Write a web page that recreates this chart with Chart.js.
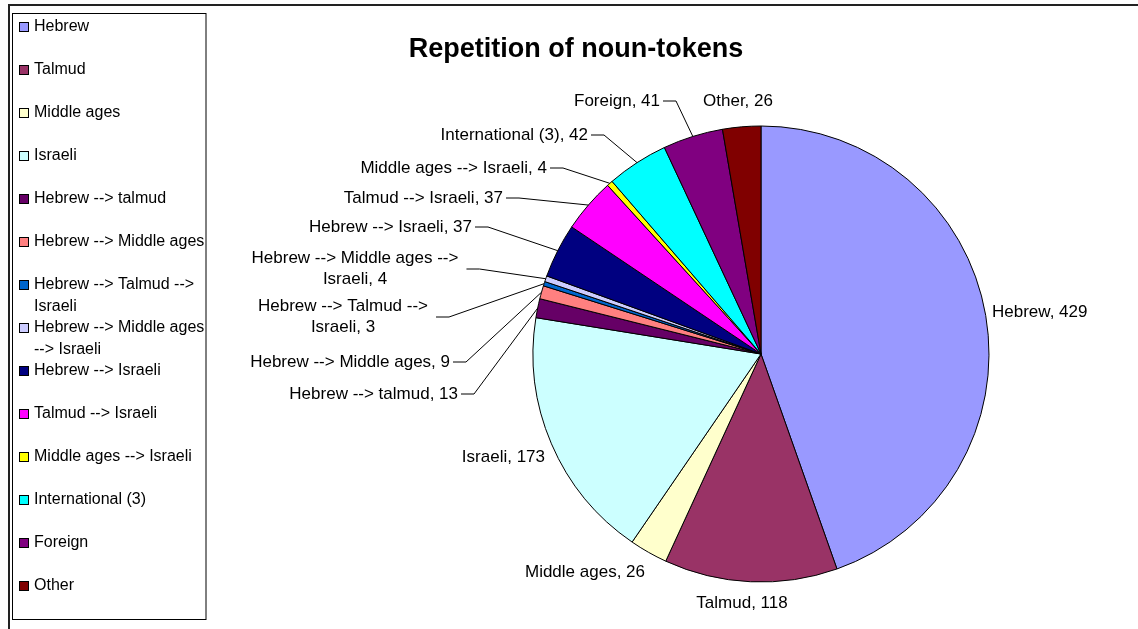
<!DOCTYPE html>
<html>
<head>
<meta charset="utf-8">
<title>Repetition of noun-tokens</title>
<script src="https://cdn.jsdelivr.net/npm/chart.js@4.4.1/dist/chart.umd.min.js"></script>
<style>
  html, body { margin: 0; padding: 0; background: #fff; }
  canvas { display: block; }
</style>
</head>
<body>
<canvas id="nounChart" width="1138" height="629"></canvas>
<script>
// origin categories and their noun-token counts
const categories = [
  "Hebrew", "Talmud", "Middle ages", "Israeli",
  "Hebrew --> talmud", "Hebrew --> Middle ages",
  "Hebrew --> Talmud --> Israeli", "Hebrew --> Middle ages --> Israeli",
  "Hebrew --> Israeli", "Talmud --> Israeli", "Middle ages --> Israeli",
  "International (3)", "Foreign", "Other"
];
const tokenCounts = [429, 118, 26, 173, 13, 9, 3, 4, 37, 37, 4, 42, 41, 26];
const sliceColors = [
  "#9999FF", "#993366", "#FFFFCC", "#CCFFFF", "#660066", "#FF8080", "#0066CC",
  "#CCCCFF", "#000080", "#FF00FF", "#FFFF00", "#00FFFF", "#800080", "#800000"
];

const FONT = '"Liberation Sans", Arial, sans-serif';

// where each data label sits, relative to the pie centre
// align: text alignment at (dx, dy); leader: draw a line back to the slice
const labelLayout = [
  { dx: 231, dy: -42, align: "left" },
  { dx: -19, dy: 249, align: "center" },
  { dx: -116, dy: 218, align: "right" },
  { dx: -216, dy: 103, align: "right" },
  { dx: -303, dy: 40, align: "right", leader: true },
  { dx: -311, dy: 8, align: "right", leader: true },
  { dx: -418, dy: -37, align: "center", leader: true, wrap: 215 },
  { dx: -406, dy: -85, align: "center", leader: true, wrap: 215 },
  { dx: -289, dy: -127, align: "right", leader: true },
  { dx: -258, dy: -156, align: "right", leader: true },
  { dx: -214, dy: -186, align: "right", leader: true },
  { dx: -173, dy: -219, align: "right", leader: true },
  { dx: -101, dy: -253, align: "right", leader: true },
  { dx: -23, dy: -253, align: "center" }
];

// simple word wrap for canvas text
function wrapText(ctx, text, maxWidth) {
  const words = text.split(" ");
  const lines = [];
  let line = "";
  words.forEach((w) => {
    const test = line ? line + " " + w : w;
    if (line && ctx.measureText(test).width > maxWidth) {
      lines.push(line);
      line = w;
    } else {
      line = test;
    }
  });
  if (line) lines.push(line);
  return lines;
}

// frame, title, legend and data labels
const excelDecor = {
  id: "excelDecor",
  afterDraw(chart) {
    const ctx = chart.ctx;
    const ds = chart.data.datasets[0];
    const arcs = chart.getDatasetMeta(0).data;
    ctx.save();

    // outer frame (top and left edge only)
    ctx.strokeStyle = "#222";
    ctx.lineWidth = 2;
    ctx.beginPath();
    ctx.moveTo(9, 629);
    ctx.lineTo(9, 5);
    ctx.lineTo(1138, 5);
    ctx.stroke();

    // title
    ctx.fillStyle = "#000";
    ctx.font = "bold 27px " + FONT;
    ctx.textAlign = "center";
    ctx.textBaseline = "alphabetic";
    ctx.fillText("Repetition of noun-tokens", 576, 57);

    // legend box
    ctx.lineWidth = 1;
    ctx.strokeStyle = "#000";
    ctx.strokeRect(12.5, 13.5, 193.5, 606);
    ctx.font = "16px " + FONT;
    ctx.textAlign = "left";
    ctx.textBaseline = "middle";
    chart.data.labels.forEach((label, i) => {
      const y = 27 + i * 43;
      ctx.fillStyle = ds.backgroundColor[i];
      ctx.fillRect(19.5, y - 4.5, 9, 9);
      ctx.strokeRect(19.5, y - 4.5, 9, 9);
      ctx.fillStyle = "#000";
      wrapText(ctx, label, 176).forEach((ln, k) => {
        ctx.fillText(ln, 34, y + k * 21.5);
      });
    });

    // data labels with leader lines
    ctx.font = "17px " + FONT;
    arcs.forEach((arc, i) => {
      const lay = labelLayout[i];
      const text = chart.data.labels[i] + ", " + ds.data[i];
      const lines = lay.wrap ? wrapText(ctx, text, lay.wrap) : [text];
      const lh = 21;
      const x = arc.x + lay.dx;
      const y = arc.y + lay.dy;
      ctx.fillStyle = "#000";
      ctx.textAlign = lay.align;
      ctx.textBaseline = "middle";
      lines.forEach((ln, k) => {
        ctx.fillText(ln, x, y + (k - (lines.length - 1) / 2) * lh);
      });

      if (lay.leader) {
        const widest = Math.max(...lines.map((ln) => ctx.measureText(ln).width));
        let right = x;
        if (lay.align === "center") right = x + widest / 2;
        if (lay.align === "left") right = x + widest;
        const sx = right + (lines.length > 1 ? 8 : 3);
        const mid = (arc.startAngle + arc.endAngle) / 2;
        const ex = arc.x + Math.cos(mid) * arc.outerRadius;
        const ey = arc.y + Math.sin(mid) * arc.outerRadius;
        ctx.beginPath();
        ctx.moveTo(sx, y);
        ctx.lineTo(sx + 13, y);
        ctx.lineTo(ex, ey);
        ctx.stroke();
      }
    });

    ctx.restore();
  }
};

const ctx = document.getElementById("nounChart").getContext("2d");
new Chart(ctx, {
  type: "pie",
  data: {
    labels: categories,
    datasets: [
      {
        data: tokenCounts,
        backgroundColor: sliceColors,
        borderColor: "#000",
        borderWidth: 1,
        radius: 228
      }
    ]
  },
  options: {
    responsive: false,
    animation: false,
    layout: {
      padding: { left: 521, right: 137, top: 114, bottom: 35 }
    },
    plugins: {
      legend: { display: false },
      tooltip: { enabled: false }
    }
  },
  plugins: [excelDecor]
});
</script>
</body>
</html>
